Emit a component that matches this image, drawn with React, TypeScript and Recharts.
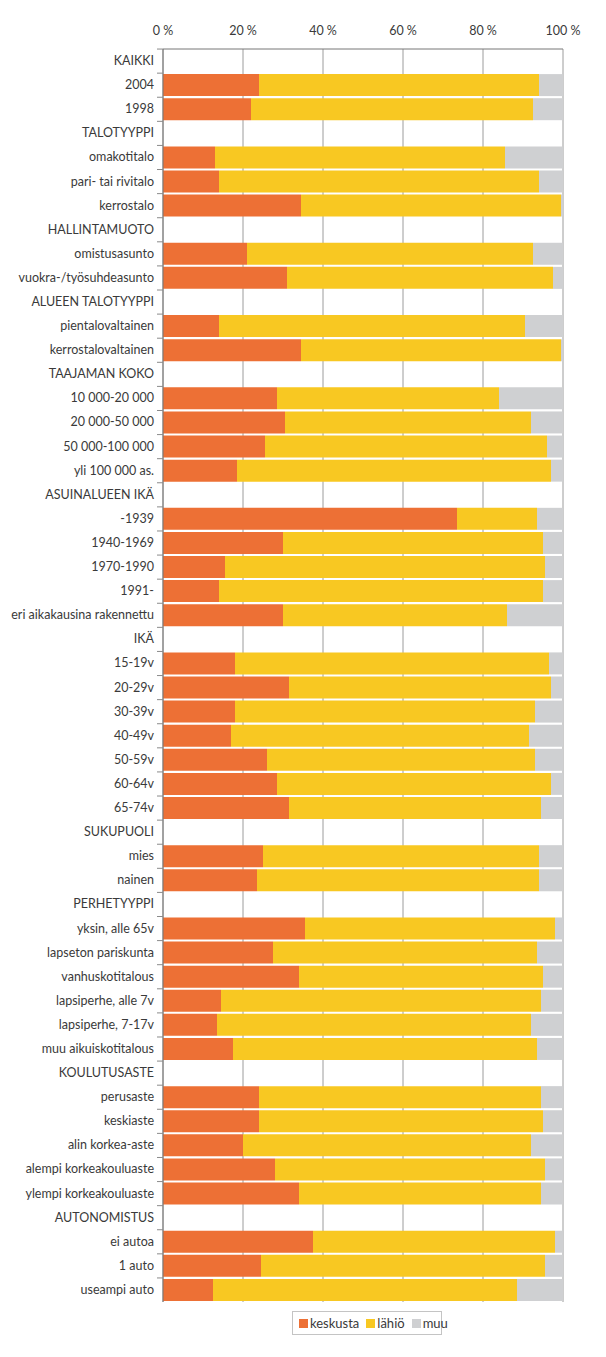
import { Bar, BarChart, CartesianGrid, Legend, XAxis, YAxis } from "recharts";

const categories = [
  "KAIKKI", "2004", "1998",
  "TALOTYYPPI", "omakotitalo", "pari- tai rivitalo", "kerrostalo",
  "HALLINTAMUOTO", "omistusasunto", "vuokra-/työsuhdeasunto",
  "ALUEEN TALOTYYPPI", "pientalovaltainen", "kerrostalovaltainen",
  "TAAJAMAN KOKO", "10 000-20 000", "20 000-50 000", "50 000-100 000", "yli 100 000 as.",
  "ASUINALUEEN IKÄ", "-1939", "1940-1969", "1970-1990", "1991-", "eri aikakausina rakennettu",
  "IKÄ", "15-19v", "20-29v", "30-39v", "40-49v", "50-59v", "60-64v", "65-74v",
  "SUKUPUOLI", "mies", "nainen",
  "PERHETYYPPI", "yksin, alle 65v", "lapseton pariskunta", "vanhuskotitalous",
  "lapsiperhe, alle 7v", "lapsiperhe, 7-17v", "muu aikuiskotitalous",
  "KOULUTUSASTE", "perusaste", "keskiaste", "alin korkea-aste",
  "alempi korkeakouluaste", "ylempi korkeakouluaste",
  "AUTONOMISTUS", "ei autoa", "1 auto", "useampi auto",
];

const keskusta = [
  null, 24, 22,
  null, 13, 14, 34.5,
  null, 21, 31,
  null, 14, 34.5,
  null, 28.5, 30.5, 25.5, 18.5,
  null, 73.5, 30, 15.5, 14, 30,
  null, 18, 31.5, 18, 17, 26, 28.5, 31.5,
  null, 25, 23.5,
  null, 35.5, 27.5, 34, 14.5, 13.5, 17.5,
  null, 24, 24, 20, 28, 34,
  null, 37.5, 24.5, 12.5,
];

const lahio = [
  null, 70, 70.5,
  null, 72.5, 80, 65,
  null, 71.5, 66.5,
  null, 76.5, 65,
  null, 55.5, 61.5, 70.5, 78.5,
  null, 20, 65, 80, 81, 56,
  null, 78.5, 65.5, 75, 74.5, 67, 68.5, 63,
  null, 69, 70.5,
  null, 62.5, 66, 61, 80, 78.5, 76,
  null, 70.5, 71, 72, 67.5, 60.5,
  null, 60.5, 71, 76,
];

const muu = [
  null, 6, 7.5,
  null, 14.5, 6, 0.5,
  null, 7.5, 2.5,
  null, 9.5, 0.5,
  null, 16, 8, 4, 3,
  null, 6.5, 5, 4.5, 5, 14,
  null, 3.5, 3, 7, 8.5, 7, 3, 5.5,
  null, 6, 6,
  null, 2, 6.5, 5, 5.5, 8, 6.5,
  null, 5.5, 5, 8, 4.5, 5.5,
  null, 2, 4.5, 11.5,
];

const percentTicks = [0, 20, 40, 60, 80, 100];

const series = [
  { key: "keskusta", name: "keskusta", color: "#ED7035" },
  { key: "lahio", name: "lähiö", color: "#F8C822" },
  { key: "muu", name: "muu", color: "#CFD0D2" },
];

const data = categories.map((label, i) => ({
  label,
  keskusta: keskusta[i],
  lahio: lahio[i],
  muu: muu[i],
}));

const FONT = "Lato, 'Open Sans', sans-serif";

function CategoryTick({ x, y, payload }: any) {
  return (
    <g>
      <line x1={x + 3} x2={x + 9} y1={y - 12} y2={y - 12} stroke="#8a8a8a" />
      <text x={x} y={y} dy={4} textAnchor="end" fontSize={12.5} fill="#3a3a3a" fontFamily={FONT}>
        {payload.value}
      </text>
    </g>
  );
}

function LegendBox() {
  return (
    <div
      style={{
        display: "flex",
        alignItems: "center",
        gap: 7,
        height: 24,
        padding: "0 6px",
        border: "1px solid #c4c4c4",
        fontFamily: FONT,
        fontSize: 13,
        color: "#3a3a3a",
        boxSizing: "border-box",
      }}
    >
      {series.map((s) => (
        <span key={s.key} style={{ display: "flex", alignItems: "center", gap: 2 }}>
          <span style={{ width: 9, height: 9, background: s.color, display: "inline-block" }} />
          {s.name}
        </span>
      ))}
    </div>
  );
}

export default function App() {
  return (
    <div style={{ margin: -8, width: 606, height: 1357, background: "#fff" }}>
      <BarChart
        width={606}
        height={1357}
        data={data}
        layout="vertical"
        margin={{ top: 19, right: 43, bottom: 31, left: 0 }}
        barCategoryGap={1}
      >
        <CartesianGrid horizontal={false} stroke="#9c9c9c" />
        <XAxis
          type="number"
          orientation="top"
          domain={[0, 100]}
          ticks={percentTicks}
          tickFormatter={(v) => `${v} %`}
          axisLine={{ stroke: "#777" }}
          tickLine={false}
          tickMargin={8}
          height={30}
          tick={{ fontSize: 12.5, fill: "#3a3a3a", fontFamily: FONT }}
        />
        <YAxis
          type="category"
          dataKey="label"
          width={163}
          interval={0}
          axisLine={{ stroke: "#777" }}
          tickLine={false}
          tickSize={0}
          tickMargin={9}
          tick={<CategoryTick />}
        />
        <Legend
          verticalAlign="bottom"
          content={<LegendBox />}
          wrapperStyle={{ left: 292, width: 150, bottom: 22 }}
        />
        {series.map((s) => (
          <Bar key={s.key} dataKey={s.key} name={s.name} stackId="a" fill={s.color} isAnimationActive={false} />
        ))}
      </BarChart>
    </div>
  );
}
